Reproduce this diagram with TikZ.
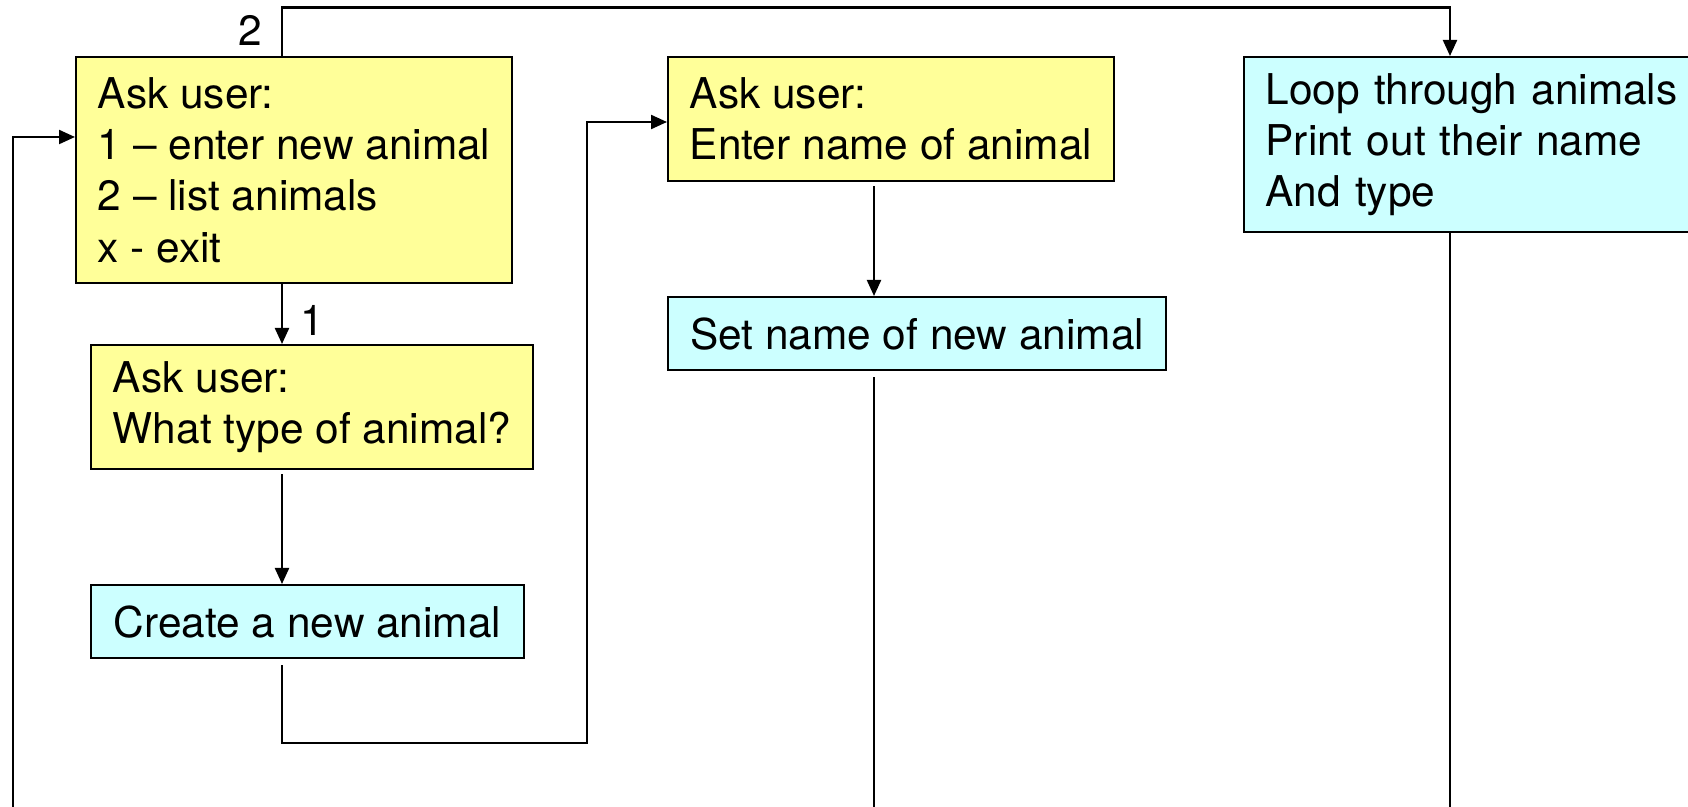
\documentclass[tikz,border=0pt]{standalone}
\usepackage{fontspec}
\setmainfont{TeX Gyre Heros}
\usetikzlibrary{arrows.meta}
\definecolor{yellowbox}{HTML}{FFFF99}
\definecolor{cyanbox}{HTML}{CCFFFF}
\begin{document}
\begin{tikzpicture}[x=0.5pt,y=-0.5pt,
  box/.style={draw=black, line width=1.1pt, rectangle, anchor=north west, align=left,
    inner xsep=10.75pt, inner ysep=0pt, font=\fontsize{21.2}{25.7}\selectfont},
  ybox/.style={box, fill=yellowbox},
  cbox/.style={box, fill=cyanbox},
  conn/.style={line width=1.1pt},
  arr/.style={conn, -{Triangle[length=8pt,width=7pt]}},
  lbl/.style={font=\fontsize{21.2}{25.7}\selectfont, inner sep=0pt}]
\clip (0,0) rectangle (1688,807);

\node[ybox, minimum width=218pt, minimum height=113pt] (menu) at (75,56)
  {Ask user:\\1 – enter new animal\\2 – list animals\\x - exit};
\node[ybox, minimum width=221pt, minimum height=62pt] (type) at (90,344)
  {Ask user:\\What type of animal?};
\node[cbox, minimum width=216.5pt, minimum height=36.5pt] (create) at (90,584)
  {Create a new animal};
\node[ybox, minimum width=223pt, minimum height=62pt] (name) at (667,56)
  {Ask user:\\Enter name of animal};
\node[cbox, minimum width=249pt, minimum height=36.5pt] (setname) at (667,296)
  {Set name of new animal};
\node[cbox, text width=240pt, minimum height=87.5pt] (list) at (1243,56)
  {Loop through animals\\Print out their name\\And type};

\node[lbl] (two) at (250,30) {2};
\node[lbl] (one) at (312,320) {1};

\coordinate (xa) at (282,0);
\coordinate (xb) at (874,0);
\coordinate (xc) at (1450,0);
\coordinate (xm) at (587,0);
\coordinate (ytop) at (0,7.5);
\coordinate (yl) at (0,137);
\coordinate (yr) at (0,122);
\coordinate (ylow) at (0,743);
\coordinate (loopin) at (13,807);
\coordinate (endB) at (874,807);
\coordinate (endC) at (1450,807);

\draw[arr] (xa |- menu.north) -- (xa |- ytop) -| (xc |- list.north);
\draw[arr] (loopin) |- (menu.west |- yl);
\draw[arr] (xa |- menu.south) -- (xa |- type.north);
\draw[arr, shorten <=2pt] (xa |- type.south) -- (xa |- create.north);
\draw[arr, shorten <=3pt] (xa |- create.south) -- (xa |- ylow) -| (xm |- yr) -- (name.west |- yr);
\draw[arr, shorten <=2pt] (xb |- name.south) -- (xb |- setname.north);
\draw[conn, shorten <=3pt] (xb |- setname.south) -- (endB);
\draw[conn] (xc |- list.south) -- (endC);
\end{tikzpicture}
\end{document}
